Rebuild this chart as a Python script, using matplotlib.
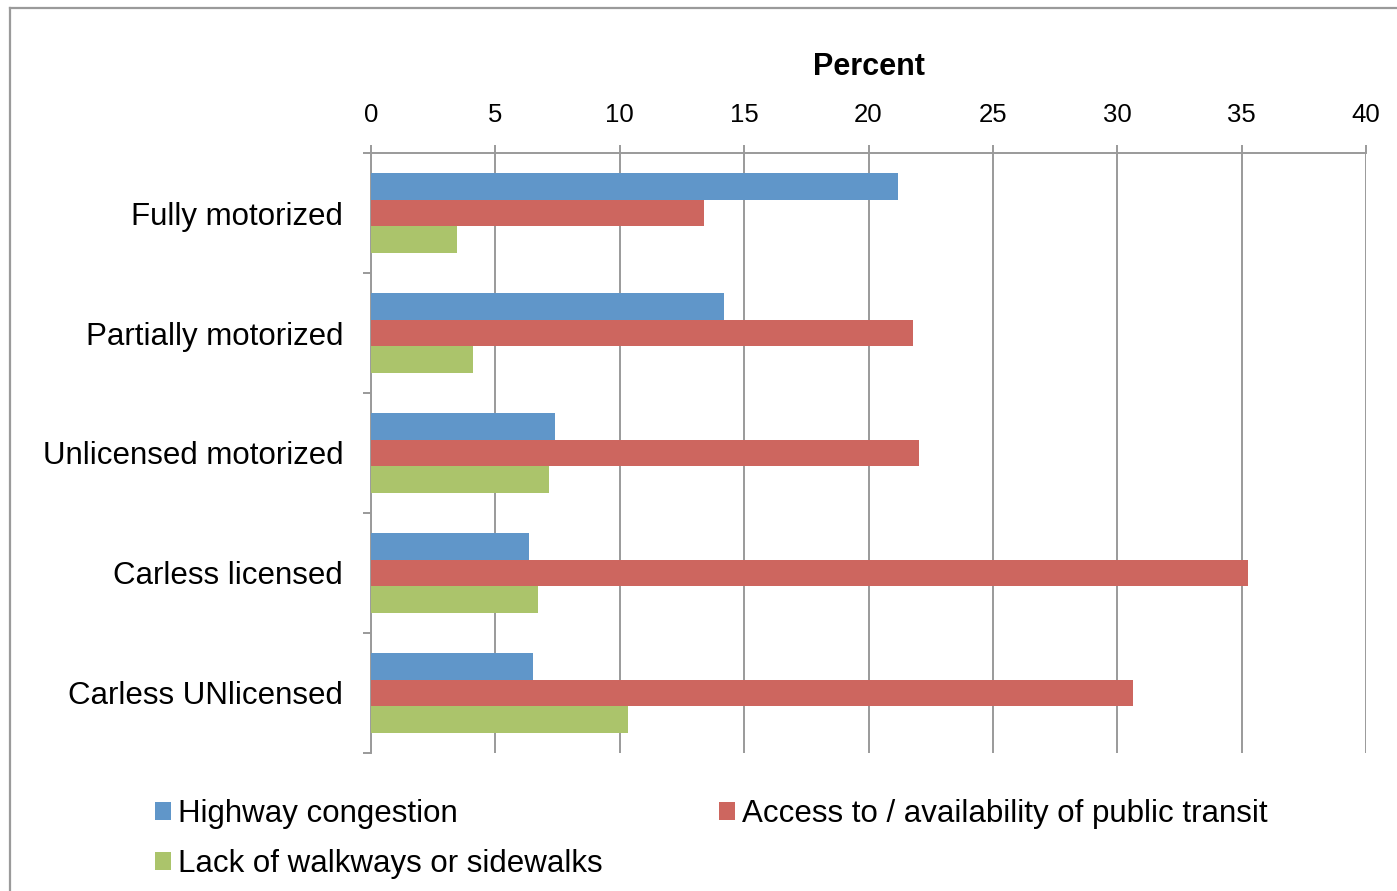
import numpy as np
import matplotlib.pyplot as plt
from matplotlib.lines import Line2D

plt.rcParams['font.family'] = ['Liberation Sans', 'DejaVu Sans']

categories = ['Fully motorized', 'Partially motorized', 'Unlicensed motorized',
              'Carless licensed', 'Carless UNlicensed']
highway = [21.2, 14.2, 7.4, 6.35, 6.5]
transit = [13.4, 21.8, 22.05, 35.25, 30.65]
walkways = [3.45, 4.1, 7.15, 6.7, 10.35]
series_names = ['Highway congestion', 'Access to / availability of public transit',
                'Lack of walkways or sidewalks']
colors = ['#6096C9', '#CD665F', '#ABC46B']
xticks = [0, 5, 10, 15, 20, 25, 30, 35, 40]

fig = plt.figure(figsize=(13.97, 8.91), dpi=100)
ax = fig.add_axes([371 / 1397, 138 / 891, 995 / 1397, 600 / 891])

gray = '#9a9a9a'
y = np.arange(len(categories)) + 0.5
h = 0.222
bars = []
for k, (vals, c) in enumerate(zip([highway, transit, walkways], colors)):
    b = ax.barh(y + (k - 1) * h, vals, height=h, color=c, edgecolor='none', zorder=3)
    bars.append(b)

ax.set_xlim(0, 40)
ax.set_ylim(len(categories), 0)
ax.set_xticks(xticks)
ax.xaxis.tick_top()
ax.xaxis.set_label_position('top')
ax.set_xlabel('Percent', fontsize=22, fontweight='bold', labelpad=20)
ax.tick_params(axis='x', direction='out', length=6, width=1.4, color=gray,
               labelsize=18.5, pad=13)
ax.grid(axis='x', color=gray, linewidth=1.4, zorder=0)

ax.set_yticks(y)
ax.set_yticklabels(categories, fontsize=22.5)
ax.set_yticks(np.arange(len(categories) + 1), minor=True)
ax.tick_params(axis='y', which='major', length=0, pad=20)
ax.tick_params(axis='y', which='minor', direction='out', length=6, width=1.4, color=gray)

for s in ['right', 'bottom']:
    ax.spines[s].set_visible(False)
for s in ['top', 'left']:
    ax.spines[s].set_color(gray)
    ax.spines[s].set_linewidth(1.4)

# outer chart border
fig.add_artist(Line2D([10 / 1397, 10 / 1397], [0, 1 - 8 / 891], transform=fig.transFigure,
                      color=gray, linewidth=1.6))
fig.add_artist(Line2D([10 / 1397, 1], [1 - 8 / 891, 1 - 8 / 891], transform=fig.transFigure,
                      color=gray, linewidth=1.6))

handles = [bars[0], bars[2], bars[1]]
labels = [series_names[0], series_names[2], series_names[1]]
fig.legend(handles, labels, ncol=2, loc='upper left',
           bbox_to_anchor=(155 / 1397, 1 - 799 / 891), frameon=False,
           fontsize=22.5, handlelength=0.5, handleheight=0.55, handletextpad=0.22,
           columnspacing=3.75, labelspacing=0.64, borderpad=0, borderaxespad=0)

fig.savefig('out.png', dpi=100)
